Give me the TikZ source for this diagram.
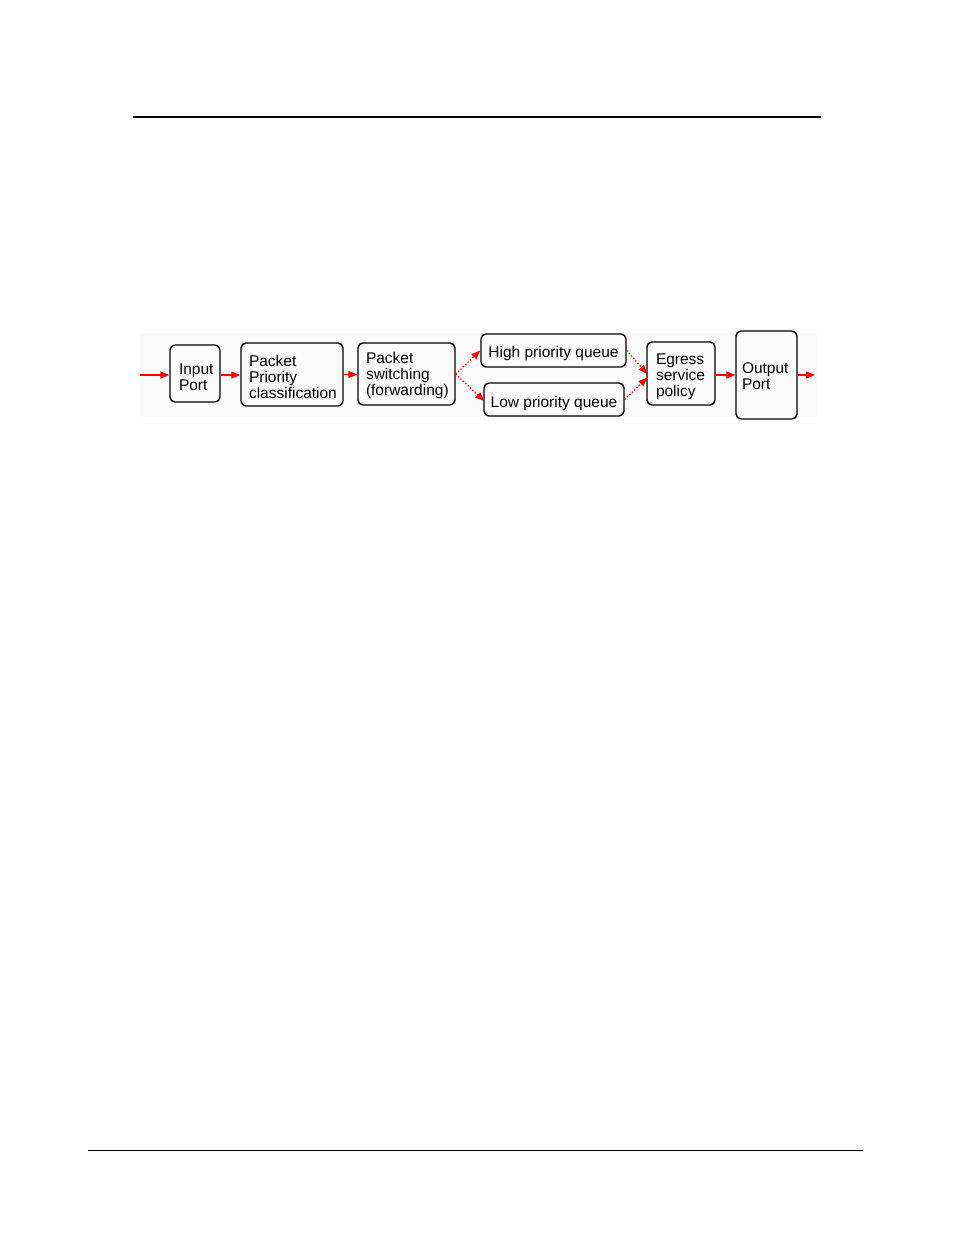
\documentclass[tikz,border=0pt]{standalone}
\usepackage{fontspec}
\setmainfont{Liberation Sans}
\usetikzlibrary{arrows.meta,calc}
\begin{document}
\begin{tikzpicture}[x=1pt,y=-1pt,
  font=\fontsize{15.5}{16}\selectfont,
  blk/.style={draw=black,line width=1.4pt,rounded corners=5pt,align=left,inner ysep=0pt},
  lower/.style={execute at begin node={\rule{0pt}{\dimexpr 11.2pt + 2\dimexpr #1pt\relax\relax}}},
  flow/.style={draw=red,line width=1.4pt,-{Triangle[length=9pt,width=7pt]}},
  dflow/.style={draw=red,line width=1.3pt,dotted,-{Triangle[length=9pt,width=7pt]}}]
\useasboundingbox (0,0) rectangle (954,1235);
% page rules
\draw[line width=2pt] (133,117) -- (821,117);
\draw[line width=1pt] (88,1150) -- (863,1150);
% faint background of the figure
\fill[fill={rgb,255:red,251;green,251;blue,251}] (140,333) rectangle (817,417);
% blocks
\node[blk,lower=3,minimum width=50pt,minimum height=57pt,text width=32pt,inner xsep=9pt] (inp) at (195,373.5) {Input\\Port};
\node[blk,lower=2,minimum width=102pt,minimum height=63pt,text width=86pt,inner xsep=8pt] (ppc) at (292,374.5) {Packet\\Priority\\classification};
\node[blk,lower=2,minimum width=97pt,minimum height=62pt,text width=81pt,inner xsep=8pt] (sw) at (406.5,374) {Packet\\switching\\(forwarding)};
\node[blk,lower=3,minimum width=145pt,minimum height=33pt,align=center,inner xsep=4pt] (hq) at (553.5,350.5) {High priority queue};
\node[blk,lower=4,minimum width=140pt,minimum height=33pt,align=center,inner xsep=4pt] (lq) at (554,399.5) {Low priority queue};
\node[blk,lower=3,minimum width=68pt,minimum height=63pt,text width=50pt,inner xsep=9pt] (eg) at (681,373.5) {Egress\\service\\policy};
\node[blk,lower=1,minimum width=61pt,minimum height=88pt,text width=49pt,inner xsep=6pt] (out) at (766.5,375) {Output\\Port};
% free ends
\coordinate (inStart) at (140,375);
\coordinate (outEnd) at (815,375);
% connectors
\draw[flow] (inStart) -- (inStart -| inp.west);
\draw[flow] (inp.east |- inStart) -- (inStart -| ppc.west);
\draw[flow] (ppc.east) -- (ppc.east -| sw.west);
\draw[dflow] (sw.east) -- (hq.west);
\draw[dflow] (sw.east) -- ($(lq.west)+(1,1.5)$);
\draw[dflow] (hq.east) -- ($(eg.west)+(1,0.5)$);
\draw[dflow] (lq.east) -- ($(eg.west)+(1,4)$);
\draw[flow] (eg.east |- outEnd) -- (outEnd -| out.west);
\draw[flow] (out.east |- outEnd) -- (outEnd);
\end{tikzpicture}
\end{document}
